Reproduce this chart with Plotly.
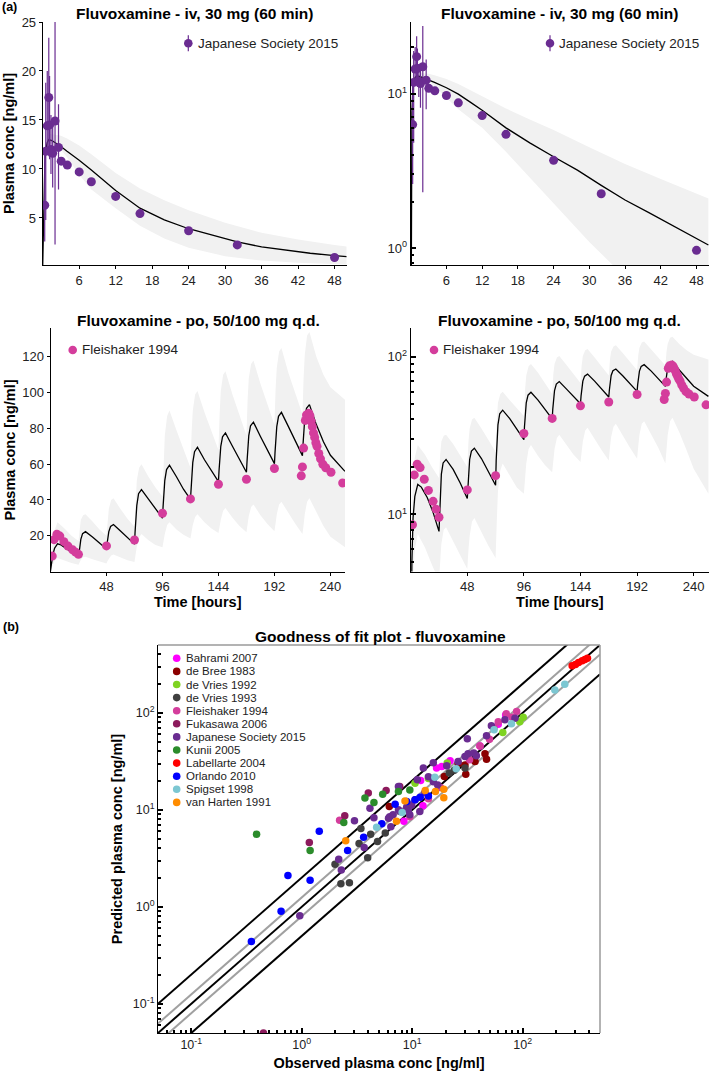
import math
import plotly.graph_objects as go

W, H = 709, 1073

# ---------- (a) iv 30 mg (60 min), Japanese Society 2015 ----------
iv_time = [0.33, 0.5, 0.75, 1.0, 1.13, 1.36, 1.64, 2.03, 2.6, 3.04, 4.05, 6, 8, 12, 16, 24, 32, 48]
iv_conc = [6.3, 11.8, 14.4, 17.3, 14.5, 12.0, 11.6, 14.9, 12.2, 10.8, 10.4, 9.7, 8.7, 7.2, 5.45, 3.7, 2.25, 0.97]
iv_low = [2.6, 4.8, 12.0, 11.3, 11.0, 9.5, 8.1, 2.3, 7.9, 10.8, 10.4, 9.7, 8.7, 7.2, 5.45, 3.7, 2.25, 0.97]
iv_high = [11.6, 18.8, 20.0, 23.4, 19.5, 15.5, 14.7, 27.3, 16.6, 10.8, 10.4, 9.7, 8.7, 7.2, 5.45, 3.7, 2.25, 0.97]

iv_sim_time = [0, 0.1, 0.2, 0.35, 0.5, 0.75, 1.0, 1.5, 2, 3, 4, 6, 8, 10, 12, 16, 20, 24, 28, 32, 36, 40, 44, 48, 50]
iv_sim_conc = [0.05, 4.0, 7.5, 10.5, 12.0, 12.7, 13.0, 12.9, 12.7, 12.3, 11.8, 10.9, 9.9, 8.8, 7.8, 6.0, 4.8, 3.9, 3.2, 2.55, 2.05, 1.7, 1.4, 1.15, 1.05]

iv_band_time = [1.0, 2, 3, 4, 6, 8, 12, 16, 20, 24, 30, 36, 42, 48, 50]
iv_band_high = [13.6, 13.5, 13.4, 13.1, 12.4, 11.5, 9.6, 8.0, 6.8, 5.8, 4.5, 3.5, 2.8, 2.25, 2.1]
iv_band_low = [12.6, 12.4, 12.0, 11.2, 9.4, 7.9, 6.0, 4.2, 2.9, 1.95, 1.1, 0.65, 0.42, 0.28, 0.25]

# ---------- (a) po 50/100 mg q.d., Fleishaker 1994 ----------
po_time = [1.5, 3, 5.5, 8, 11.5, 15, 19, 21.5, 24, 48, 72, 96, 120, 144, 168, 192,
           215, 216, 217, 218.5, 219.5, 220.5, 221.5, 222.5, 223.5, 224.5, 225.5, 226.5,
           227.5, 228.5, 230, 231.5, 233.5, 236, 240.5, 250.5]
po_conc = [8.6, 17.8, 20.8, 19.8, 16.7, 14.2, 12.1, 10.8, 9.6, 14.3, 17.6, 32.6, 40.6, 48.8, 51.6, 57.6,
           53.5, 58.5, 69.0, 84.5, 87.5, 86.0, 88.5, 87.0, 84.0, 81.0, 77.5, 75.0,
           72.0, 70.0, 66.0, 63.0, 60.0, 58.0, 55.5, 49.5]

po_sim_time = [0, 1, 2, 3.5, 6, 9, 14, 19, 24,
               24.5, 25, 26, 27.5, 30, 36, 42, 48,
               48.5, 49, 50, 51.5, 54, 60, 66, 72,
               72.5, 73, 74, 75.5, 78, 84, 90, 96,
               96.5, 97, 98, 99.5, 102, 108, 114, 120,
               120.5, 121, 122, 123.5, 126, 132, 138, 144,
               144.5, 145, 146, 147.5, 150, 156, 162, 168,
               168.5, 169, 170, 171.5, 174, 180, 186, 192,
               192.5, 193, 194, 195.5, 198, 204, 210, 216,
               216.5, 217, 218, 219.5, 222, 228, 234, 240, 252.5]
po_sim_conc = [0.3, 5, 9.5, 13, 15.5, 14.9, 12.8, 10.3, 7.8,
               10.5, 13.5, 18, 21.2, 22.3, 19.3, 15.8, 12.6,
               15.5, 18.3, 22.3, 25.2, 26.3, 22.6, 18.7, 15.3,
               22, 28, 37, 43.5, 45.8, 40.5, 34.8, 29.8,
               36, 42, 51, 57, 59.5, 53, 46, 40.3,
               46.5, 52.5, 61, 67, 69.5, 62.5, 56, 50.3,
               56.5, 62, 70, 75.3, 77.5, 70, 62.5, 55.5,
               61.5, 67.5, 76, 81.5, 83.5, 75.5, 67.5, 60.3,
               66.5, 72.5, 81, 86.8, 89, 81, 72.5, 64.8,
               71, 77, 85.5, 91.3, 93.3, 82, 72.5, 65, 56]

po_band_time = [0, 1, 2, 3.5, 6, 12, 18, 24,
                25, 26, 28, 30, 36, 42, 48,
                49, 50, 52, 54, 60, 66, 72,
                73, 74, 76, 78, 84, 90, 96,
                97, 98, 100, 102, 108, 114, 120,
                121, 122, 124, 126, 132, 138, 144,
                145, 146, 148, 150, 156, 162, 168,
                169, 170, 172, 174, 180, 186, 192,
                193, 194, 196, 198, 204, 210, 216,
                217, 218, 220, 222, 228, 234, 240, 252.5]
po_band_high = [0.5, 9, 17, 23, 27.5, 24, 20, 17,
                24, 29, 31.5, 32, 28, 23.5, 20,
                29, 35, 40, 41, 35, 29.5, 25,
                40, 51, 58, 60, 53, 47, 42,
                62, 76, 87, 90, 79, 68, 58,
                78, 90, 99, 101, 89, 78, 68,
                88, 101, 110, 112, 99, 87, 76,
                96, 108, 116, 118, 105, 93, 82,
                102, 114, 123, 125, 111, 99, 88,
                108, 121, 132, 134, 120, 110, 103, 96]
po_band_low = [0.3, 2, 4, 6, 7.5, 6.2, 4.8, 3.8,
               5, 6.5, 8, 8.3, 6.8, 5.5, 4.5,
               6, 7.3, 9, 9.5, 7.8, 6.3, 5.3,
               9, 14, 19, 21, 17.5, 14.8, 13.5,
               17, 21, 26, 27.5, 23.5, 20.5, 18.5,
               22, 26, 30.5, 32, 27.5, 24, 21.5,
               25, 29, 34, 35.5, 30, 25.5, 22,
               26.5, 31, 36, 37.5, 31.5, 26.5, 22.5,
               27, 32, 37.5, 39, 32.5, 26.5, 21,
               26, 32, 39, 41, 33, 25.5, 19.5, 13.5]

# ---------- (b) goodness of fit: observed / predicted per study ----------
studies = ["Bahrami 2007", "de Bree 1983", "de Vries 1992", "de Vries 1993", "Fleishaker 1994",
           "Fukasawa 2006", "Japanese Society 2015", "Kunii 2005", "Labellarte 2004",
           "Orlando 2010", "Spigset 1998", "van Harten 1991"]
study_colors = ["#ff00ff", "#8b0000", "#7ed321", "#404040", "#d43d9c", "#8c1a5c",
                "#6a2c91", "#2b8c2b", "#ff0000", "#0000ff", "#7cc7d2", "#ff8c00"]

obs_bahrami = [8.4, 11.9, 16.6, 22, 41, 18.5, 60, 70, 12.5]
pred_bahrami = [7.6, 20, 27, 32, 45.5, 28, 76, 95, 11]
obs_debree = [6.2, 19.5, 30.5, 30, 37, 45.5, 47, 26]
pred_debree = [10.8, 22, 23.3, 29, 31.5, 37.8, 33.2, 30]
obs_devries92 = [10.6, 20.7, 66, 101, 94, 14]
pred_devries92 = [18.8, 30.3, 62.5, 90, 81, 21]
obs_devries93 = [2.0, 2.26, 2.7, 3.95, 3.3, 3.43, 4.2, 4.85, 5.7, 21.6, 24, 30]
pred_devries93 = [2.75, 1.73, 1.77, 3.2, 4.5, 6.4, 5.6, 4.7, 5.75, 23.9, 25.5, 27]
obs_fleishaker = [2.2, 9.5, 33, 41, 50, 60, 71, 88, 80, 55, 14, 18]
pred_fleishaker = [7.8, 8.5, 32.8, 45.5, 53.5, 81, 97.7, 103, 90, 70, 13, 17]
obs_fukasawa = [0.45, 1.17, 2.45, 4.0, 5.8, 7.7]
pred_fukasawa = [0.05, 4.6, 8.7, 14.9, 15.8, 17.4]
obs_japanese = [0.96, 2.16, 2.28, 3.0, 3.67, 4.14, 4.5, 6.1, 6.25, 6.4, 6.7, 7.5, 7.5, 7.8, 8.9, 9.2,
                9.5, 9.9, 10.6, 11.1, 11.7, 12.6, 14, 15.5, 15.5, 20.5, 26, 30, 32, 36, 38, 31.5,
                47, 52, 69, 85, 13, 17]
pred_japanese = [0.81, 3.1, 2.4, 7.7, 4.08, 10.4, 8.3, 8.2, 8.5, 6.7, 8.9, 10, 17.4, 9.6, 10.6, 10,
                 8.9, 11.2, 12.7, 20.4, 9.6, 27, 21.9, 19.5, 30.5, 28.4, 31.5, 35.4, 37.8, 38.5, 36, 53.9,
                 57.9, 73.5, 84.6, 88, 15, 18]
obs_kunii = [0.39, 1.19, 2.4, 3.73, 4.5, 5.4, 7.5, 9.5]
pred_kunii = [5.6, 3.8, 7.4, 13.2, 11.9, 14.5, 15.4, 16]
obs_labellarte = [280, 300, 320, 345, 365, 385]
pred_labellarte = [305, 315, 330, 345, 355, 365]
obs_orlando = [0.35, 0.65, 0.75, 1.19, 1.44, 2.6, 3.63, 5.3, 7.0, 8.9, 10.6, 11.8, 14]
pred_orlando = [0.44, 0.9, 2.1, 1.88, 6.0, 3.8, 5.2, 7.2, 11.4, 12.2, 12.7, 13.5, 13.9]
obs_spigset = [4.76, 8.1, 16, 25, 55, 79, 195, 240]
pred_spigset = [6.6, 9.4, 21.7, 26.5, 67, 77, 172, 197]
obs_vanharten = [2.5, 7.2, 8.6, 13.1, 16.2, 19.3, 19.3]
pred_vanharten = [4.8, 7.6, 12.3, 15.8, 15.4, 16.3, 13.3]

study_obs = [obs_bahrami, obs_debree, obs_devries92, obs_devries93, obs_fleishaker, obs_fukasawa,
             obs_japanese, obs_kunii, obs_labellarte, obs_orlando, obs_spigset, obs_vanharten]
study_pred = [pred_bahrami, pred_debree, pred_devries92, pred_devries93, pred_fleishaker, pred_fukasawa,
              pred_japanese, pred_kunii, pred_labellarte, pred_orlando, pred_spigset, pred_vanharten]

gof_limits = [0.05, 500]
fold_black = [0.5, 1, 2]
fold_grey = [0.8, 1.25]

PURPLE = "#6a2c91"
PINK = "#d43d9c"
FONT = "Liberation Sans, Arial, sans-serif"


def fx(p):
    return p / W


def fy(p):
    return 1 - p / H


fig = go.Figure()


def add_band(t, lo, hi, xa, ya):
    fig.add_trace(go.Scatter(x=list(t) + list(t)[::-1], y=list(hi) + list(lo)[::-1],
                             fill="toself", fillcolor="#f1f1f1", mode="lines",
                             line=dict(width=0, color="#f1f1f1"), hoverinfo="skip",
                             showlegend=False, xaxis=xa, yaxis=ya))


def add_line(t, c, xa, ya):
    fig.add_trace(go.Scatter(x=t, y=c, mode="lines", line=dict(color="black", width=1.3),
                             showlegend=False, xaxis=xa, yaxis=ya))


err_plus = [h - c for h, c in zip(iv_high, iv_conc)]
err_minus = [c - l for c, l in zip(iv_conc, iv_low)]

for xa, ya in [("x", "y"), ("x2", "y2")]:
    add_band(iv_band_time, iv_band_low, iv_band_high, xa, ya)
    add_line(iv_sim_time, iv_sim_conc, xa, ya)
    fig.add_trace(go.Scatter(x=iv_time, y=iv_conc, mode="markers",
                             marker=dict(color=PURPLE, size=9),
                             error_y=dict(type="data", array=err_plus, arrayminus=err_minus,
                                          color=PURPLE, thickness=1.2, width=0),
                             name="Japanese Society 2015", showlegend=False, xaxis=xa, yaxis=ya))

for xa, ya in [("x3", "y3"), ("x4", "y4")]:
    add_band(po_band_time, po_band_low, po_band_high, xa, ya)
    add_line(po_sim_time, po_sim_conc, xa, ya)
    fig.add_trace(go.Scatter(x=po_time, y=po_conc, mode="markers",
                             marker=dict(color=PINK, size=9),
                             name="Fleishaker 1994", showlegend=False, xaxis=xa, yaxis=ya))

# reference lines of the goodness of fit plot
for f in fold_grey:
    fig.add_trace(go.Scatter(x=gof_limits, y=[v * f for v in gof_limits], mode="lines",
                             line=dict(color="#a0a0a0", width=2), showlegend=False,
                             hoverinfo="skip", xaxis="x5", yaxis="y5"))
for f in fold_black:
    fig.add_trace(go.Scatter(x=gof_limits, y=[v * f for v in gof_limits], mode="lines",
                             line=dict(color="black", width=2), showlegend=False,
                             hoverinfo="skip", xaxis="x5", yaxis="y5"))

for name, col, o, p in zip(studies, study_colors, study_obs, study_pred):
    fig.add_trace(go.Scatter(x=o, y=p, mode="markers", marker=dict(color=col, size=7.5),
                             name=name, showlegend=False, xaxis="x5", yaxis="y5"))


def minor_vals(lo_exp, hi_exp):
    return [m * 10 ** e for e in range(lo_exp, hi_exp + 1) for m in range(2, 10)]


tick_font = dict(size=13, color="#222")
axis_title_font = dict(size=14.5, color="black", family=FONT)


def lin_axis(dom, rng, vals, anchor, **kw):
    d = dict(domain=dom, range=rng, tickvals=vals, anchor=anchor, showline=True, linecolor="black",
             linewidth=1, ticks="outside", ticklen=3, tickcolor="black", showgrid=False,
             zeroline=False, tickfont=tick_font, automargin=False)
    d.update(kw)
    return d


def log_axis(dom, rng, vals, anchor, minors, **kw):
    d = dict(domain=dom, type="log", range=rng, tickvals=vals,
             ticktext=["10<sup>%d</sup>" % round(math.log10(v)) for v in vals],
             anchor=anchor, showline=True, linecolor="black", linewidth=1, ticks="inside",
             ticklen=5, tickcolor="black", tickwidth=1.5, showgrid=False, zeroline=False,
             tickfont=tick_font, automargin=False,
             minor=dict(tickvals=minors, ticks="inside", ticklen=3, tickcolor="black", tickwidth=1.5))
    d.update(kw)
    return d


top_y = [fy(265), fy(22)]
bot_y = [fy(571.5), fy(328.3)]
left_x_top = [fx(42.7), fx(346.7)]
left_x_bot = [fx(50.5), fx(345)]
right_x = [fx(410.7), 1.0]

fig.update_layout(
    width=W, height=H, margin=dict(l=0, r=0, t=0, b=0), template="none",
    paper_bgcolor="white", plot_bgcolor="rgba(0,0,0,0)",
    font=dict(family=FONT, color="#222"), showlegend=False,
    xaxis=lin_axis(left_x_top, [0, 50], [6, 12, 18, 24, 30, 36, 42, 48], "y"),
    yaxis=lin_axis(top_y, [0.2, 25], [5, 10, 15, 20, 25], "x",
                   title=dict(text="<b>Plasma conc [ng/ml]</b>", font=axis_title_font, standoff=3)),
    xaxis2=lin_axis(right_x, [0, 50.1], [6, 12, 18, 24, 30, 36, 42, 48], "y2"),
    yaxis2=log_axis(top_y, [-0.108, 1.462], [1, 10], "x2", minor_vals(-1, 1)),
    xaxis3=lin_axis(left_x_bot, [0, 252.5], [48, 96, 144, 192, 240], "y3",
                    title=dict(text="<b>Time [hours]</b>", font=axis_title_font, standoff=1)),
    yaxis3=lin_axis(bot_y, [0, 136], [20, 40, 60, 80, 100, 120], "x3",
                    title=dict(text="<b>Plasma conc [ng/ml]</b>", font=axis_title_font, standoff=3)),
    xaxis4=lin_axis(right_x, [0, 253], [48, 96, 144, 192, 240], "y4",
                    title=dict(text="<b>Time [hours]</b>", font=axis_title_font, standoff=1)),
    yaxis4=log_axis(bot_y, [0.638, 2.18], [10, 100], "x4", minor_vals(0, 2)),
    xaxis5=log_axis([fx(158), fx(600)], [-1.301, 2.699], [0.1, 1, 10, 100], "y5", minor_vals(-2, 2),
                    tickfont=dict(size=12.5, color="#222"),
                    title=dict(text="<b>Observed plasma conc [ng/ml]</b>", font=axis_title_font, standoff=6)),
    yaxis5=log_axis([fy(1033), fy(645)], [-1.301, 2.699], [0.1, 1, 10, 100], "x5", minor_vals(-2, 2),
                    tickfont=dict(size=12.5, color="#222"),
                    title=dict(text="<b>Predicted plasma conc [ng/ml]</b>", font=axis_title_font, standoff=6)),
)

shapes = [
    dict(type="line", xref="x5 domain", yref="y5 domain", x0=0, x1=1, y0=1, y1=1,
         line=dict(color="#9a9a9a", width=1.5)),
    dict(type="line", xref="x5 domain", yref="y5 domain", x0=1, x1=1, y0=0, y1=1,
         line=dict(color="#9a9a9a", width=1.5)),
]
annotations = []


def title(text, x, y, size=15.5):
    annotations.append(dict(text="<b>%s</b>" % text, x=fx(x), y=fy(y), xref="paper", yref="paper",
                            showarrow=False, font=dict(size=size, color="black", family=FONT),
                            xanchor="center", yanchor="middle"))


def legend_item(text, color, x, y, r, size, errbar=False):
    if errbar:
        shapes.append(dict(type="line", xref="paper", yref="paper", x0=fx(x), x1=fx(x),
                           y0=fy(y - 8), y1=fy(y + 8), line=dict(color=color, width=1.2)))
    shapes.append(dict(type="circle", xref="paper", yref="paper", xsizemode="pixel", ysizemode="pixel",
                       xanchor=fx(x), yanchor=fy(y), x0=-r, x1=r, y0=-r, y1=r,
                       fillcolor=color, line=dict(width=0)))
    annotations.append(dict(text=text, x=fx(x + r + 3), y=fy(y), xref="paper", yref="paper",
                            showarrow=False, xanchor="left", yanchor="middle",
                            font=dict(size=size, color="#222", family=FONT)))


title("Fluvoxamine - iv, 30 mg (60 min)", 194.7, 14)
title("Fluvoxamine - iv, 30 mg (60 min)", 559, 14)
title("Fluvoxamine - po, 50/100 mg q.d.", 198, 320)
title("Fluvoxamine - po, 50/100 mg q.d.", 559, 320)
title("Goodness of fit plot - fluvoxamine", 380, 636)
annotations.append(dict(text="<b>(a)</b>", x=0, y=fy(7), xref="paper", yref="paper", showarrow=False,
                        xanchor="left", yanchor="middle", font=dict(size=12.5, color="black", family=FONT)))
annotations.append(dict(text="<b>(b)</b>", x=fx(1), y=fy(627), xref="paper", yref="paper", showarrow=False,
                        xanchor="left", yanchor="middle", font=dict(size=12.5, color="black", family=FONT)))

legend_item("Japanese Society 2015", PURPLE, 188.3, 43.3, 4.3, 13.5, errbar=True)
legend_item("Japanese Society 2015", PURPLE, 550, 43.3, 4.3, 13.5, errbar=True)
legend_item("Fleishaker 1994", PINK, 72.7, 350, 4.3, 13.5)
legend_item("Fleishaker 1994", PINK, 434, 350, 4.3, 13.5)
for i, (name, col) in enumerate(zip(studies, study_colors)):
    legend_item(name, col, 176.7, 658.3 + 13.1 * i, 3.8, 11.5)

fig.update_layout(shapes=shapes, annotations=annotations)
# the page body keeps its default 8px margin otherwise, shifting the figure
fig.write_html("out.html", config={"displayModeBar": False},
               post_script="document.body.style.margin='0px';")
